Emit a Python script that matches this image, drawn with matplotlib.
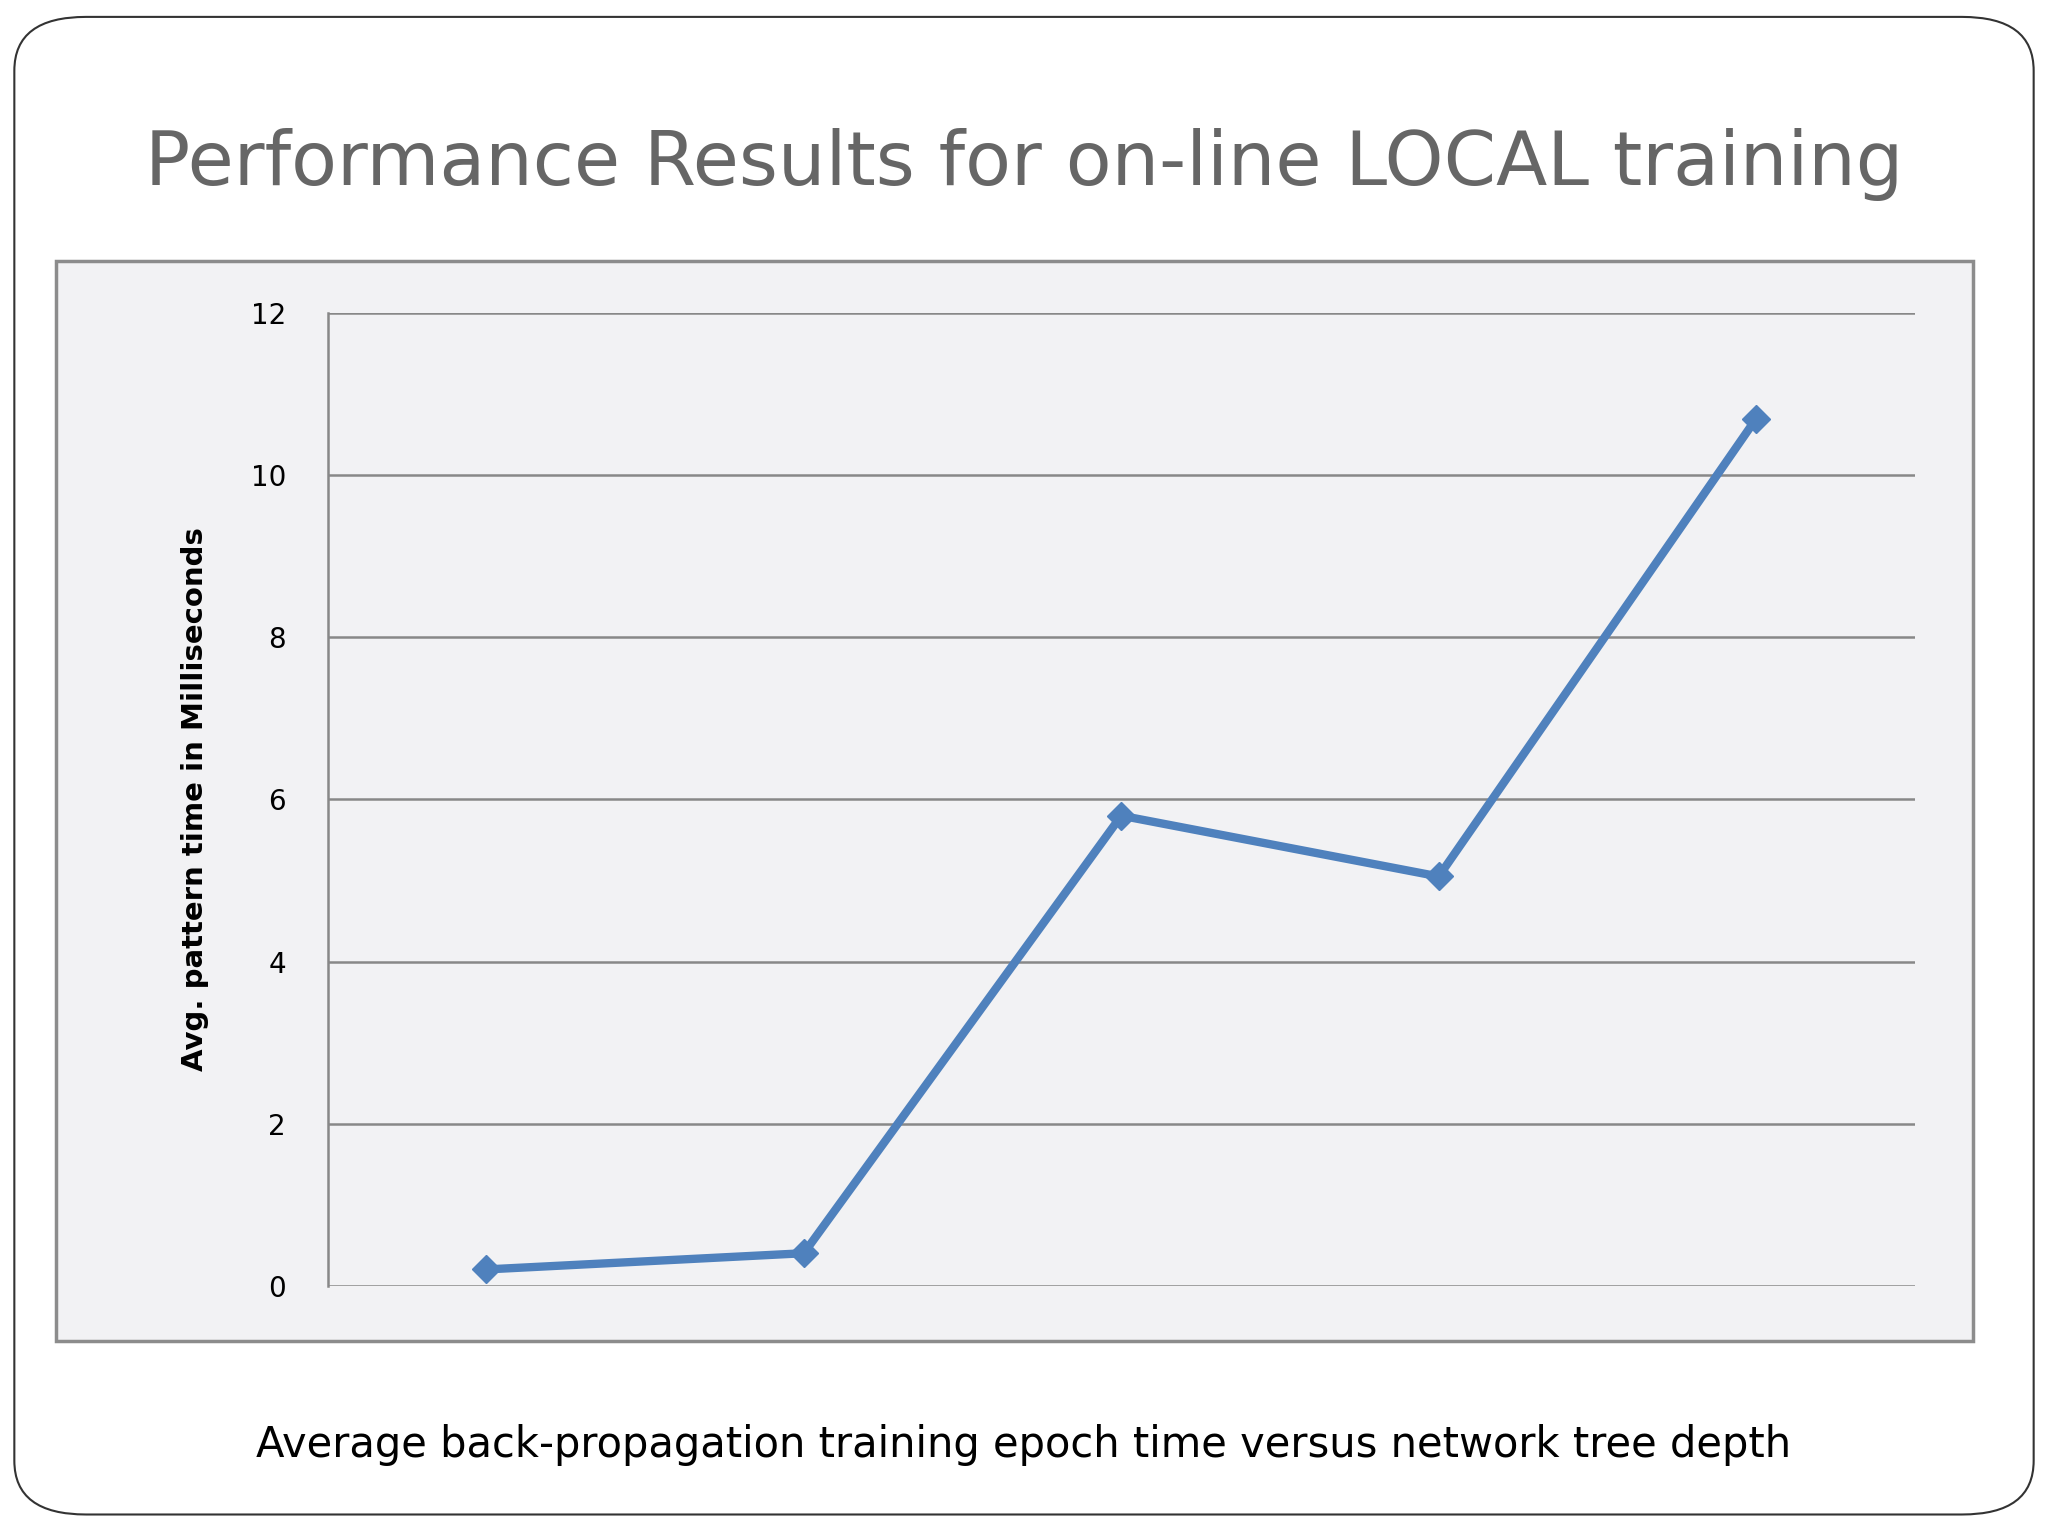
import matplotlib.pyplot as plt
from matplotlib.patches import FancyBboxPatch, Rectangle

depths = [1, 2, 3, 4, 5]
avg_time_ms = [0.2, 0.4, 5.8, 5.05, 10.7]
y_ticks = [0, 2, 4, 6, 8, 10, 12]

fig = plt.figure(figsize=(20.48, 15.36), dpi=100)
fig.patch.set_facecolor("white")

# rounded slide border
fig.patches.append(FancyBboxPatch((0.007, 0.014), 0.986, 0.975,
                                  boxstyle="round,pad=0,rounding_size=0.035",
                                  transform=fig.transFigure, fill=False,
                                  edgecolor="#333333", linewidth=1.5, zorder=-2))
# chart background box
fig.patches.append(Rectangle((0.0274, 0.127), 0.936, 0.703, transform=fig.transFigure,
                             facecolor="#f2f2f4", edgecolor="#8c8c8c", linewidth=2.5,
                             zorder=-1))

fig.text(0.5, 0.893, "Performance Results for on-line LOCAL training", ha="center",
         va="center", fontsize=54, color="#666666")
fig.text(0.5, 0.059, "Average back-propagation training epoch time versus network tree depth",
         ha="center", va="center", fontsize=30, color="black")

ax = fig.add_axes([0.160, 0.163, 0.775, 0.633])
ax.set_zorder(5)
ax.set_facecolor("none")
x = [d - 0.5 for d in depths]
ax.plot(x, avg_time_ms, color="#4f81bd", linewidth=6, marker="D", markersize=14)
ax.set_xlim(0, 5)
ax.set_ylim(0, 12)
ax.set_yticks(y_ticks)
ax.set_xticks([])
ax.tick_params(axis="y", length=0, labelsize=20, pad=30)
ax.yaxis.grid(True, color="#888888", linewidth=1.8)
ax.set_axisbelow(True)
for s in ["top", "right", "bottom"]:
    ax.spines[s].set_visible(False)
ax.spines["left"].set_color("#888888")
ax.spines["left"].set_linewidth(1.8)
ax.set_ylabel("Avg. pattern time in Milliseconds", fontsize=21, fontweight="bold", labelpad=30)

fig.savefig("out.png", dpi=100)
